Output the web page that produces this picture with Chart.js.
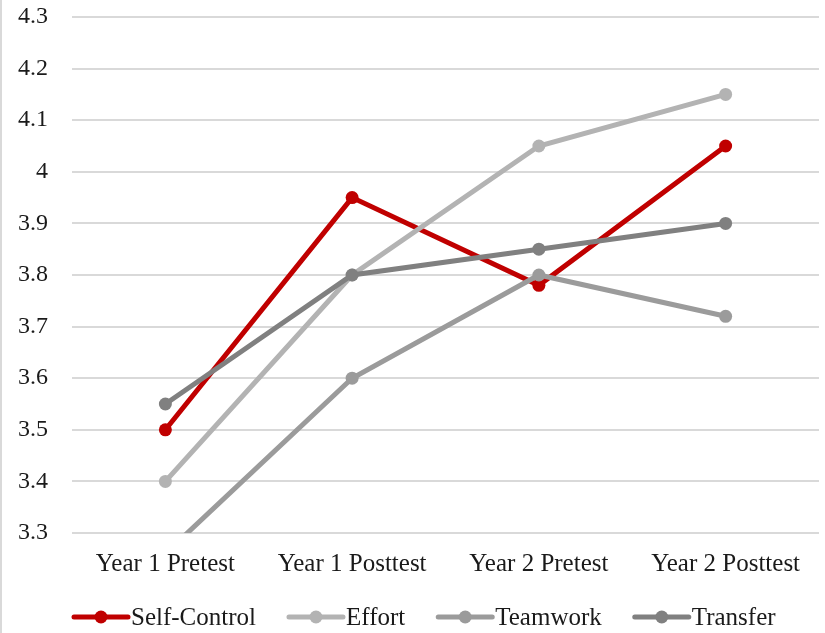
<!DOCTYPE html>
<html>
<head>
<meta charset="utf-8">
<script src="https://cdn.jsdelivr.net/npm/chart.js@4/dist/chart.umd.min.js"></script>
<style>
  html, body { margin: 0; padding: 0; background: #fff; }
  #wrap { position: relative; width: 825px; height: 633px; }
  #edge { position: absolute; left: 0; top: 0; width: 2px; height: 633px; background: #d9d9d9; }
</style>
</head>
<body>
<div id="wrap">
  <canvas id="scores" width="825" height="633"></canvas>
  <div id="edge"></div>
</div>
<script>
// ----------------------------- data ---------------------- >>
const waves = ['Year 1 Pretest', 'Year 1 Posttest', 'Year 2 Pretest', 'Year 2 Posttest'];
const selfControl = [3.5, 3.95, 3.78, 4.05];
const effort = [3.4, 3.8, 4.05, 4.15];
const teamwork = [3.26, 3.6, 3.8, 3.72];
const transfer = [3.55, 3.8, 3.85, 3.9];
const yMin = 3.3, yMax = 4.3, yStep = 0.1;

const names = ['Self-Control', 'Effort', 'Teamwork', 'Transfer'];
const colors = ['#c00000', '#b3b3b3', '#9b9b9b', '#808080'];
const series = [selfControl, effort, teamwork, transfer];

const fontFamily = '"Liberation Serif", "Times New Roman", serif';
const textColor = '#1a1a1a';

// legend drawn by hand: line with a dot, then the label, left to right
const lineLegend = {
    id: 'lineLegend',
    afterDraw(chart) {
        const g = chart.ctx;
        const y = chart.height - 16;
        let x = chart.chartArea.left;
        g.save();
        g.font = '25px ' + fontFamily;
        g.textBaseline = 'middle';
        chart.data.datasets.forEach((ds) => {
            g.strokeStyle = ds.borderColor;
            g.fillStyle = ds.borderColor;
            g.lineWidth = 5;
            g.lineCap = 'round';
            g.beginPath();
            g.moveTo(x + 2, y); g.lineTo(x + 56, y);
            g.stroke();
            g.beginPath();
            g.arc(x + 29, y, 6.5, 0, Math.PI * 2);
            g.fill();
            x += 59;
            g.fillStyle = textColor;
            g.fillText(ds.label, x, y + 1);
            x += g.measureText(ds.label).width + 31;
        });
        g.restore();
    }
};

// ----------------------------- graph ---------------------- >>
var ctx = document.getElementById('scores').getContext('2d');
var myChart = new Chart(ctx, {
    type: 'line',
    data: {
        labels: waves,
        datasets: series.map((vals, i) => ({
            label: names[i],
            data: vals,
            borderColor: colors[i],
            backgroundColor: colors[i],
            borderWidth: 5,
            pointRadius: 6.5,
            pointHoverRadius: 6.5,
            pointBorderWidth: 0,
            tension: 0,
            order: series.length - i
        }))
    },
    options: {
        responsive: false,
        animation: false,
        layout: { autoPadding: false, padding: { left: 0, right: 6, top: 17, bottom: 50 } },
        plugins: {
            tooltip: { enabled: false },
            legend: { display: false }
        },
        scales: {
            x: {
                offset: true,
                afterFit: (s) => { s.height = 50; },
                grid: { display: false, drawTicks: false },
                border: { display: false },
                ticks: {
                    color: textColor,
                    padding: 16,
                    maxRotation: 0,
                    font: { family: fontFamily, size: 25 }
                }
            },
            y: {
                min: yMin,
                max: yMax,
                afterFit: (s) => { s.width = 72; },
                // invisible tick marks keep the labels clear of the plot
                grid: { color: '#d9d9d9', lineWidth: 2, drawTicks: true, tickLength: 24, tickColor: 'rgba(0,0,0,0)' },
                border: { display: false },
                ticks: {
                    stepSize: yStep,
                    padding: 0,
                    color: textColor,
                    font: { family: fontFamily, size: 24 },
                    callback: (v) => String(Number(v.toFixed(1)))
                }
            }
        }
    },
    plugins: [lineLegend]
});
</script>
</body>
</html>
